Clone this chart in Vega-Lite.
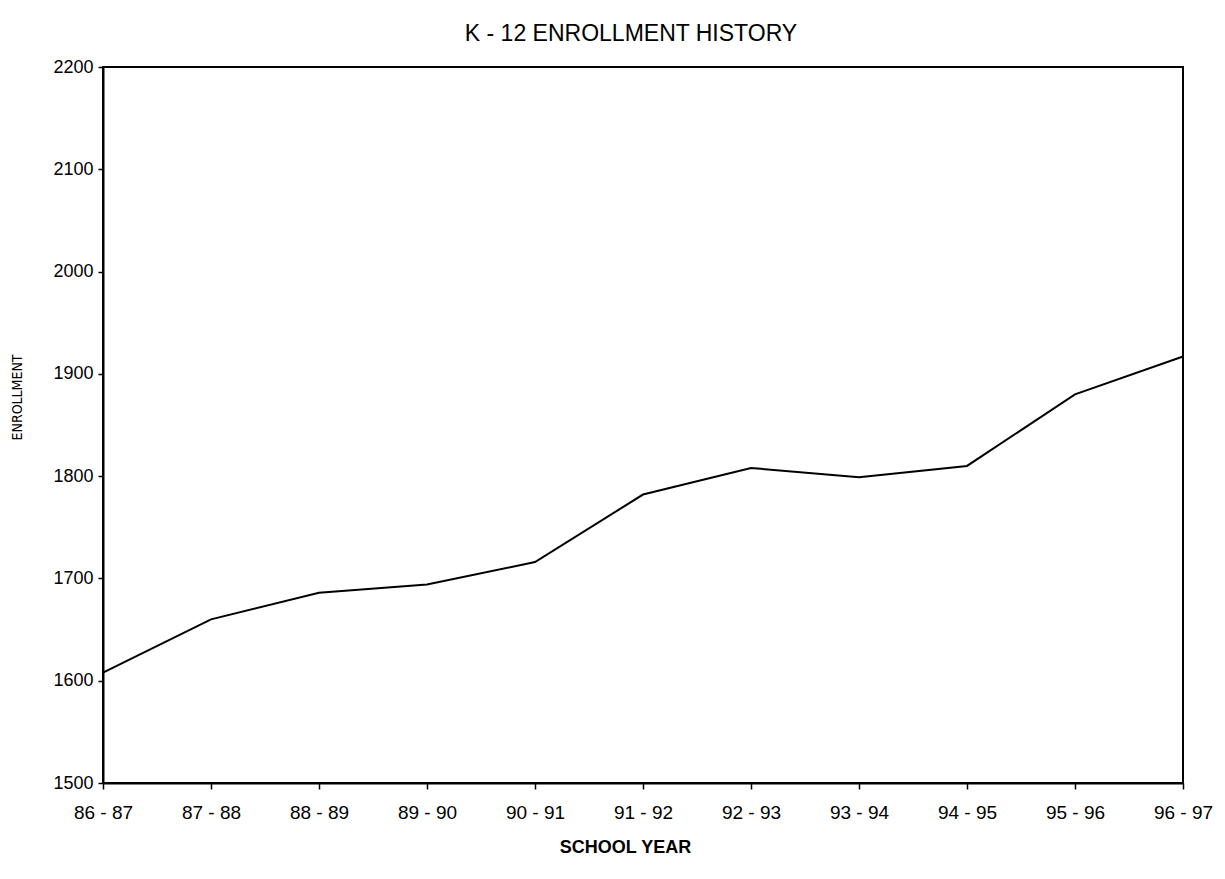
{
  "$schema": "https://vega.github.io/schema/vega-lite/v6.json",
  "autosize": "none",
  "width": 1080,
  "height": 716,
  "padding": {"left": 103, "top": 67, "right": 42, "bottom": 96},
  "background": "white",
  "title": {
    "text": "K - 12 ENROLLMENT HISTORY",
    "font": "Liberation Sans",
    "fontSize": 23,
    "fontWeight": "normal",
    "color": "black",
    "anchor": "middle",
    "dx": -12,
    "offset": 12
  },
  "config": {
    "view": {"stroke": "black", "strokeWidth": 2},
    "axis": {
      "grid": false,
      "domainColor": "black",
      "domainWidth": 2,
      "tickColor": "black",
      "tickWidth": 1.5,
      "labelFont": "Liberation Sans",
      "labelColor": "black",
      "titleColor": "black"
    }
  },
  "data": {
    "values": [
      {"year": "86 - 87", "enrollment": 1608},
      {"year": "87 - 88", "enrollment": 1660},
      {"year": "88 - 89", "enrollment": 1686},
      {"year": "89 - 90", "enrollment": 1694},
      {"year": "90 - 91", "enrollment": 1716},
      {"year": "91 - 92", "enrollment": 1782},
      {"year": "92 - 93", "enrollment": 1808},
      {"year": "93 - 94", "enrollment": 1799},
      {"year": "94 - 95", "enrollment": 1810},
      {"year": "95 - 96", "enrollment": 1880},
      {"year": "96 - 97", "enrollment": 1917}
    ]
  },
  "mark": {"type": "line", "color": "black", "strokeWidth": 2},
  "encoding": {
    "x": {
      "field": "year",
      "type": "ordinal",
      "sort": null,
      "scale": {"type": "point", "padding": 0},
      "axis": {
        "title": "SCHOOL YEAR",
        "titleFont": "Liberation Sans",
        "titleFontSize": 18,
        "titleFontWeight": "bold",
        "titlePadding": 16,
        "titleX": 522,
        "labelAngle": 0,
        "labelFontSize": 19,
        "labelPadding": 14,
        "tickSize": 6
      }
    },
    "y": {
      "field": "enrollment",
      "type": "quantitative",
      "scale": {"domain": [1500, 2200], "nice": false, "zero": false},
      "axis": {
        "title": "ENROLLMENT",
        "titleFont": "DejaVu Sans Condensed",
        "titleFontSize": 14,
        "titleFontWeight": "normal",
        "titlePadding": 28,
        "titleY": 330,
        "format": "d",
        "values": [1500, 1600, 1700, 1800, 1900, 2000, 2100, 2200],
        "labelFontSize": 18,
        "labelPadding": 5,
        "tickSize": 5
      }
    }
  }
}
